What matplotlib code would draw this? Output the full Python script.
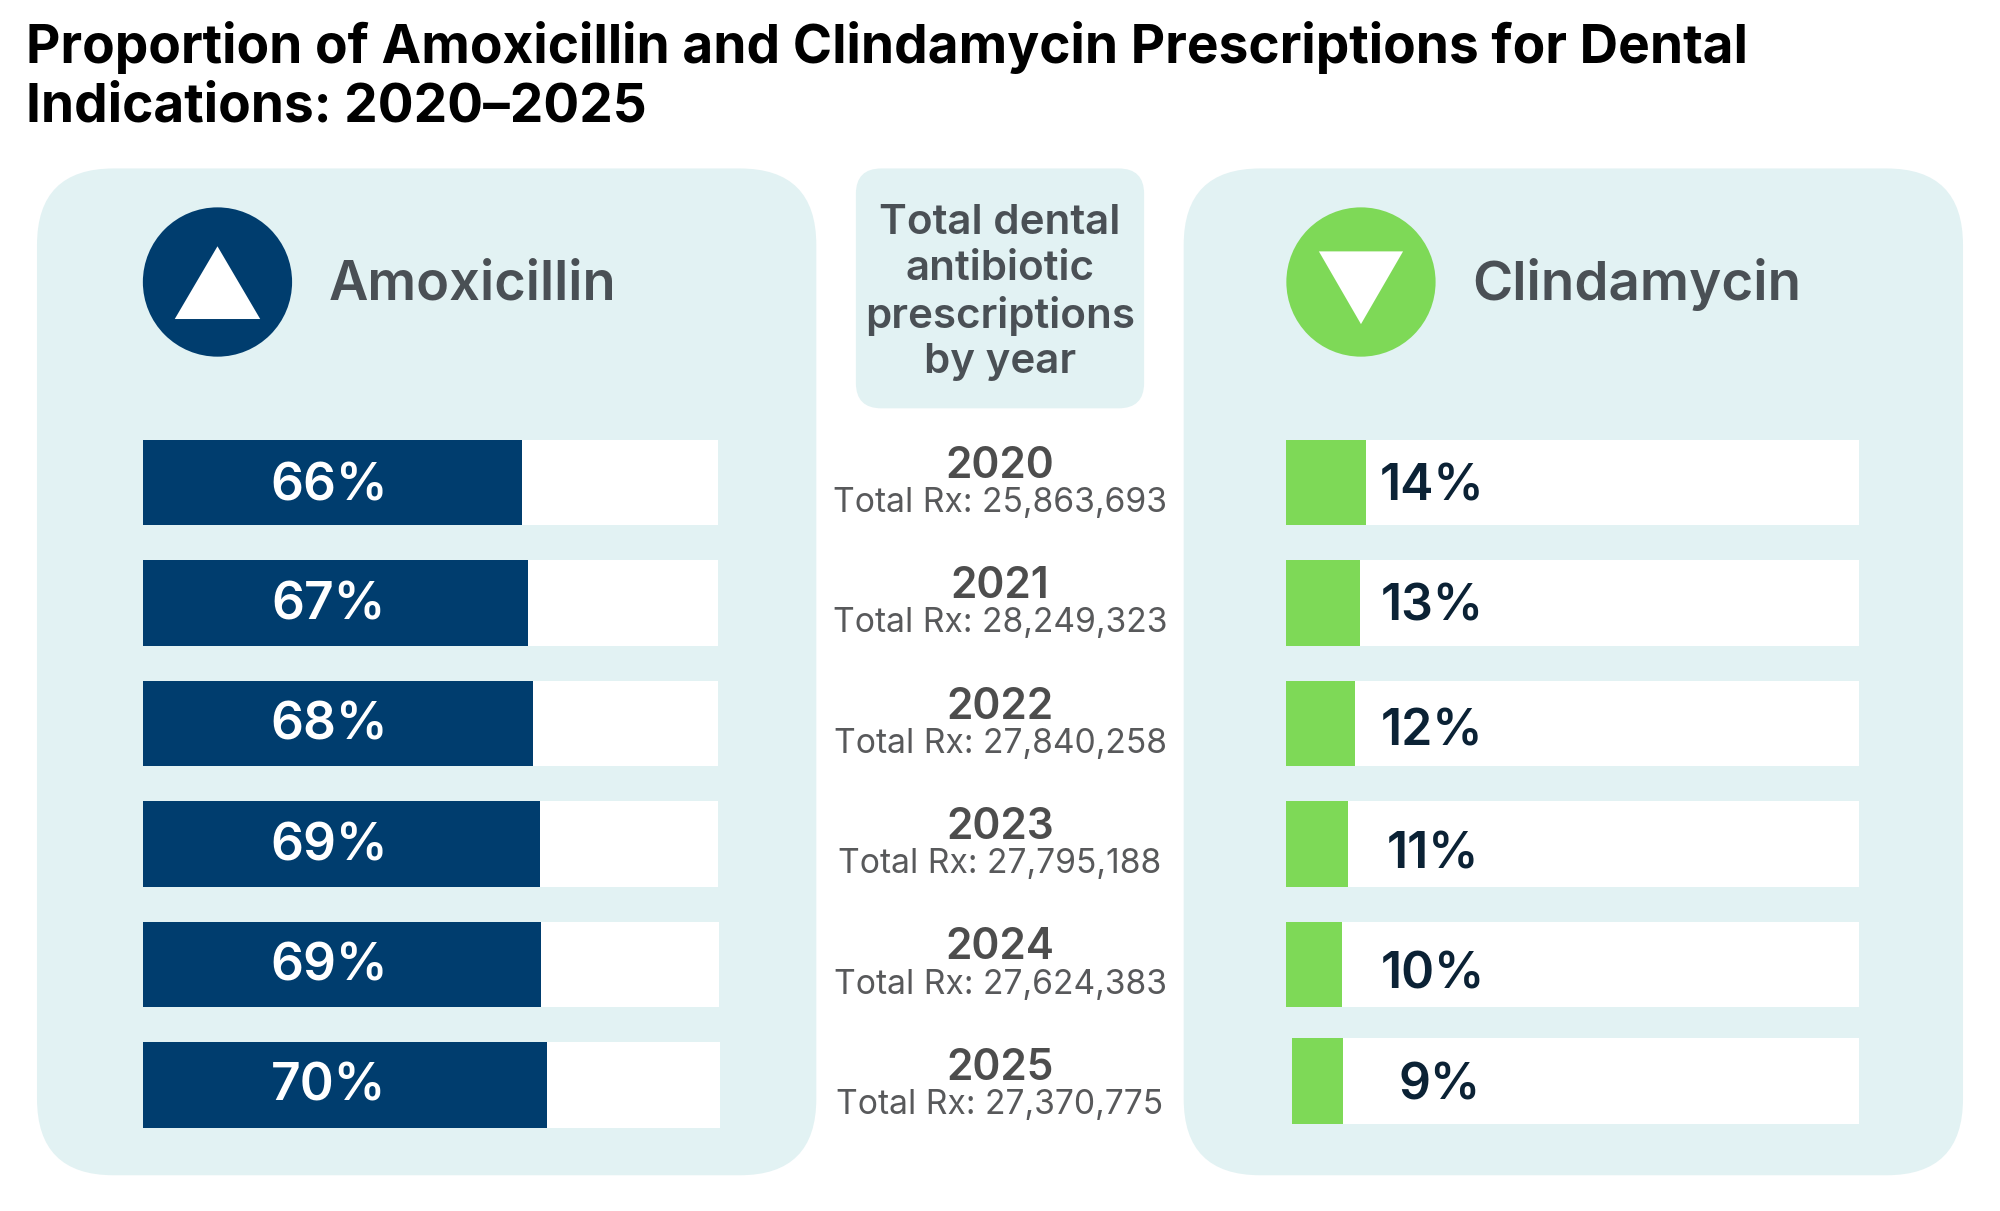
import matplotlib
matplotlib.use("Agg")
import matplotlib.pyplot as plt
from matplotlib.patches import FancyBboxPatch, Circle, Polygon

plt.rcParams['font.family'] = ['Inter', 'DejaVu Sans']

# ---- data ----
years = ['2020', '2021', '2022', '2023', '2024', '2025']
totals = ['25,863,693', '28,249,323', '27,840,258', '27,795,188', '27,624,383', '27,370,775']
amox_values = [65.9, 67.0, 67.9, 69.0, 69.2, 70.3]
amox_labels = ['66%', '67%', '68%', '69%', '69%', '70%']
clinda_values = [14.0, 12.9, 12.0, 10.9, 9.9, 8.9]
clinda_labels = ['14%', '13%', '12%', '11%', '10%', '9%']
title = 'Proportion of Amoxicillin and Clindamycin Prescriptions for Dental\nIndications: 2020–2025'

# ---- style ----
NAVY, GREEN, PANEL = '#003D6E', '#7ED957', '#E2F2F3'
HEAD, YEAR, RX, DARK = '#4A5055', '#4D4D4D', '#58595B', '#0B2235'

W, H = 1568, 949
fig = plt.figure(figsize=(20, 12.11), dpi=100, facecolor='white')
bg = fig.add_axes([0, 0, 1, 1], zorder=0)
bg.set_xlim(0, W); bg.set_ylim(H, 0); bg.axis('off')

def panel(x0, y0, x1, y1, r):
    bg.add_patch(FancyBboxPatch((x0, y0), x1 - x0, y1 - y0,
                                boxstyle=f'round,pad=0,rounding_size={r}',
                                fc=PANEL, ec='none'))

panel(29, 132, 640, 921, 60)
panel(928, 132, 1539, 921, 60)
panel(671, 132, 897, 320, 20)

bg.text(20, 60, title, fontsize=38.3, fontweight='bold', color='black',
        va='center', ha='left', linespacing=1.22)

# header icons
bg.add_patch(Circle((170.5, 221), 58.5, fc=NAVY, ec='none'))
bg.add_patch(Polygon([(170.5, 193), (137, 250), (204, 250)], fc='white', ec='none'))
bg.add_patch(Circle((1067, 221), 58.5, fc=GREEN, ec='none'))
bg.add_patch(Polygon([(1034, 197), (1100, 197), (1067, 254)], fc='white', ec='none'))
bg.text(258, 223, 'Amoxicillin', fontsize=39, fontweight='semibold', color=HEAD, va='center', ha='left')
bg.text(1154, 223, 'Clindamycin', fontsize=39.4, fontweight='semibold', color=HEAD, va='center', ha='left')
bg.text(784, 229.5, 'Total dental\nantibiotic\nprescriptions\nby year', fontsize=30.3,
        fontweight='semibold', color=HEAD, va='center', ha='center', linespacing=1.25)

# bars
ROW0, STEP, BAR_H = 378.3, 94.4, 67
TOP, BOT = 330, 900
n = len(years)
def bar_axes(x0, x1):
    a = fig.add_axes([x0 / W, 1 - BOT / H, (x1 - x0) / W, (BOT - TOP) / H], zorder=1)
    a.set_xlim(0, 100)
    a.set_ylim((BOT - ROW0) / STEP, (TOP - ROW0) / STEP)
    a.axis('off')
    return a

rows = list(range(n))
h = BAR_H / STEP
axL = bar_axes(112, 563)
axL.barh(rows, [100, 100, 100, 100, 100.2, 100.4], height=h, color='white', clip_on=False)
axL.barh(rows, amox_values, height=h, color=NAVY)

axR = bar_axes(1008, 1457.5)
shift = [0, 0, 0, 0, 0, -3 / STEP]
starts = [0, 0, 0, 0, 0, 1.1]
rows_r = [r + s for r, s in zip(rows, shift)]
axR.barh(rows_r, [100 - s for s in starts], left=starts, height=h, color='white')
axR.barh(rows_r, clinda_values, left=starts, height=h, color=GREEN)

left_label_y = [382, 475, 569, 664, 758, 852]
right_label_y = [382, 476, 574, 670, 764, 851]
right_label_x = [25.6, 25.6, 25.6, 25.6, 25.6, 26.9]
for i in rows:
    axL.text(32.3, (left_label_y[i] - ROW0) / STEP, amox_labels[i], fontsize=37,
             fontweight='semibold', color='white', va='center', ha='center', zorder=5)
    axR.text(right_label_x[i], (right_label_y[i] - ROW0) / STEP, clinda_labels[i], fontsize=36,
             fontweight='semibold', color=DARK, va='center', ha='center', zorder=5)
    cy = ROW0 + STEP * i
    bg.text(784, cy - 13, years[i], fontsize=30.5, fontweight='semibold', color=YEAR,
            va='center', ha='center')
    bg.text(784, cy + 15.8, 'Total Rx: ' + totals[i], fontsize=24.2, color=RX,
            va='center', ha='center')

fig.savefig('out.png', dpi=100)
